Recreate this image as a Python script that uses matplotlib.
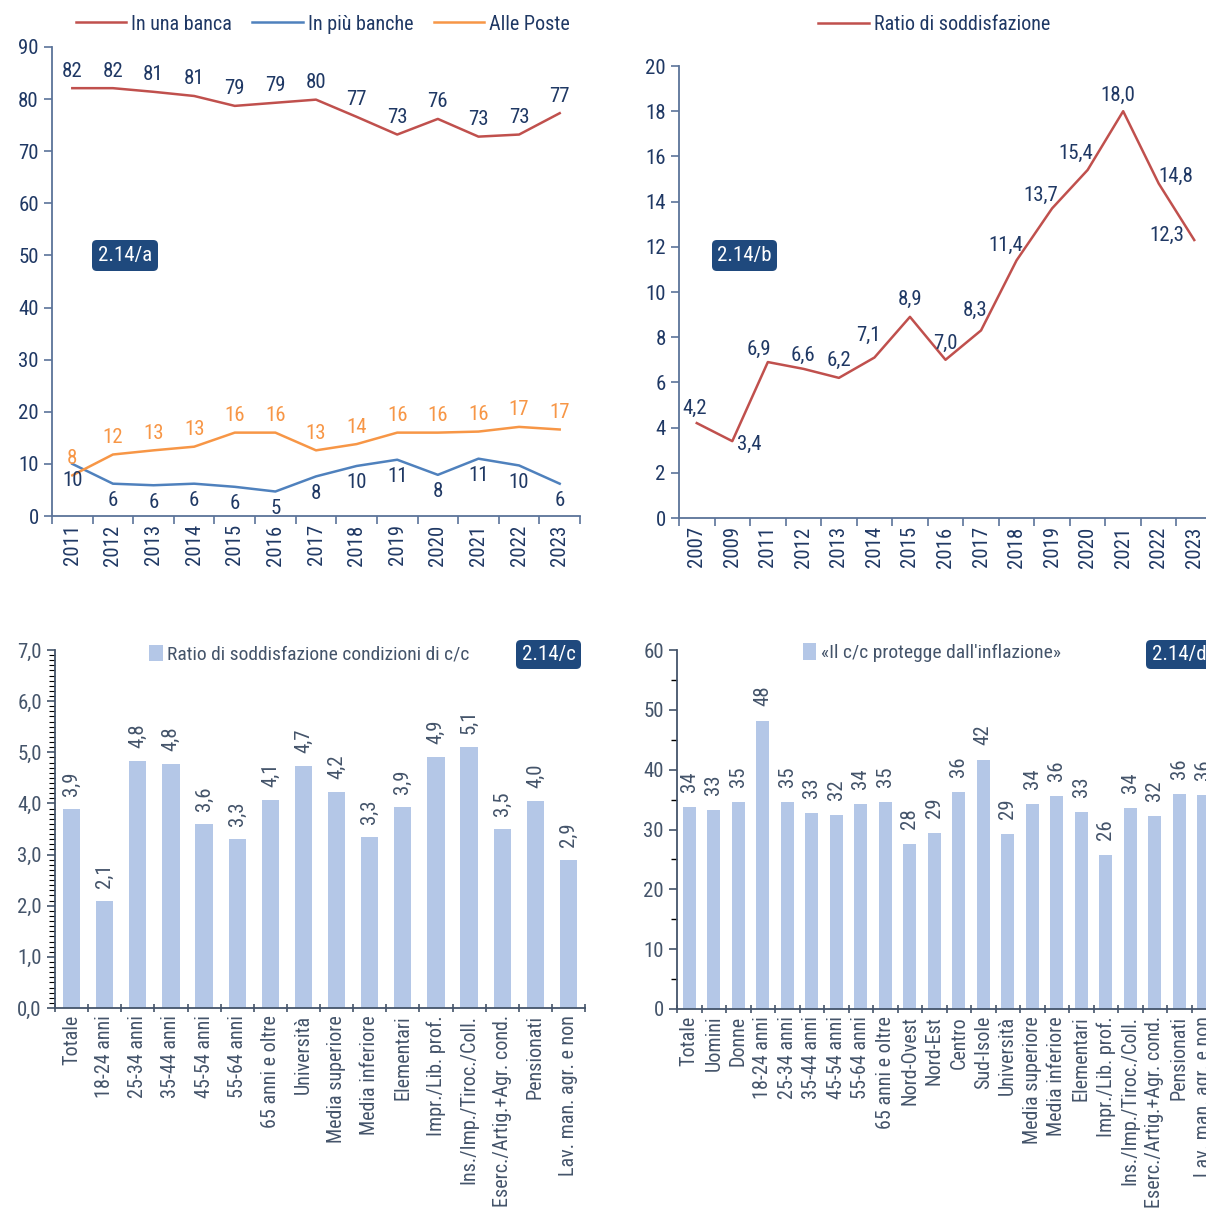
import matplotlib
matplotlib.use("Agg")
import matplotlib.pyplot as plt
import numpy as np
from matplotlib import font_manager as fm
from matplotlib.patches import FancyBboxPatch
from matplotlib.lines import Line2D

# ---------------- data ----------------
years_a = ['2011', '2012', '2013', '2014', '2015', '2016', '2017', '2018', '2019', '2020', '2021', '2022', '2023']
una_banca = [82.1, 82.1, 81.4, 80.6, 78.7, 79.3, 79.9, 76.6, 73.2, 76.2, 72.8, 73.2, 77.3]
piu_banche = [10.0, 6.2, 5.9, 6.2, 5.6, 4.7, 7.6, 9.6, 10.8, 7.9, 11.0, 9.7, 6.2]
alle_poste = [7.8, 11.8, 12.6, 13.3, 16.0, 16.0, 12.6, 13.8, 16.0, 16.0, 16.2, 17.1, 16.6]
series_a_names = ['In una banca', 'In più banche', 'Alle Poste']

years_b = ['2007', '2009', '2011', '2012', '2013', '2014', '2015', '2016', '2017', '2018', '2019', '2020', '2021', '2022', '2023']
ratio_b = [4.2, 3.4, 6.9, 6.6, 6.2, 7.1, 8.9, 7.0, 8.3, 11.4, 13.7, 15.4, 18.0, 14.8, 12.3]
series_b_name = 'Ratio di soddisfazione'

cats_c = ['Totale', '18-24 anni', '25-34 anni', '35-44 anni', '45-54 anni', '55-64 anni', '65 anni e oltre',
          'Università', 'Media superiore', 'Media inferiore', 'Elementari', 'Impr./Lib. prof.',
          'Ins./Imp./Tiroc./Coll.', 'Eserc./Artig.+Agr. cond.', 'Pensionati', 'Lav. man. agr. e non']
vals_c = [3.9, 2.1, 4.82, 4.78, 3.6, 3.3, 4.06, 4.73, 4.22, 3.34, 3.93, 4.9, 5.1, 3.5, 4.04, 2.9]
series_c_name = 'Ratio di soddisfazione condizioni di c/c'

cats_d = ['Totale', 'Uomini', 'Donne', '18-24 anni', '25-34 anni', '35-44 anni', '45-54 anni', '55-64 anni',
          '65 anni e oltre', 'Nord-Ovest', 'Nord-Est', 'Centro', 'Sud-Isole', 'Università', 'Media superiore',
          'Media inferiore', 'Elementari', 'Impr./Lib. prof.', 'Ins./Imp./Tiroc./Coll.',
          'Eserc./Artig.+Agr. cond.', 'Pensionati', 'Lav. man. agr. e non']
vals_d = [33.8, 33.2, 34.6, 48.2, 34.6, 32.8, 32.4, 34.3, 34.6, 27.6, 29.4, 36.2, 41.6, 29.2, 34.2,
          35.6, 32.9, 25.7, 33.6, 32.3, 36.0, 35.8]
series_d_name = '«Il c/c protegge dall\'inflazione»'

badges = ['2.14/a', '2.14/b', '2.14/c', '2.14/d']

# ---------------- style ----------------
avail = {f.name for f in fm.fontManager.ttflist}
family = 'DejaVu Sans'
for cand in ['Liberation Sans Narrow', 'Arial Narrow', 'Roboto Condensed', 'DejaVu Sans Condensed', 'Liberation Sans']:
    if cand in avail:
        family = cand
        break
plt.rcParams['font.family'] = [family, 'DejaVu Sans']

NAVY = '#1F3864'
GRAY = '#44546A'
SPINE_A = '#5B7399'
RED = '#C0504D'
BLUE = '#4F81BD'
ORANGE = '#F79646'
BAR = '#B4C7E7'
BADGE = '#1F497D'
FS = 15
FS_XB = 14.5   # bottom x labels
FS_VB = 15     # bottom value labels
FS_LB = 14     # bottom legends

W, H = 1206, 1208
fig = plt.figure(figsize=(W / 100, H / 100), dpi=100)


def add_ax(l, r, t, b):
    return fig.add_axes([l / W, 1 - b / H, (r - l) / W, (b - t) / H])


def style_axes(ax, color, txtcolor, fs):
    for s in ['top', 'right']:
        ax.spines[s].set_visible(False)
    for s in ['left', 'bottom']:
        ax.spines[s].set_color(color)
        ax.spines[s].set_linewidth(1.3)
    ax.tick_params(colors=color, labelcolor=txtcolor, labelsize=fs)


def cat_xaxis(ax, labels, color, txtcolor, fs, direction='out', pad=6):
    n = len(labels)
    ax.set_xlim(-0.5, n - 0.5)
    ax.set_xticks(np.arange(n + 1) - 0.5)
    ax.set_xticklabels([])
    ax.set_xticks(np.arange(n), minor=True)
    ax.set_xticklabels(labels, minor=True, rotation=90, fontsize=fs, color=txtcolor)
    ax.tick_params(axis='x', which='major', length=6, width=1.2, direction=direction, color=color)
    ax.tick_params(axis='x', which='minor', length=0, pad=pad)


def badge(x, y, w, h, text, fs):
    p = FancyBboxPatch((x / W, 1 - (y + h) / H), w / W, h / H,
                       boxstyle='round,pad=0,rounding_size=0.004', transform=fig.transFigure,
                       facecolor=BADGE, edgecolor='none', zorder=5)
    fig.patches.append(p)
    fig.text((x + w / 2) / W, 1 - (y + h / 2) / H, text, color='white', fontsize=fs,
             ha='center', va='center', zorder=6)


PX = 0.72  # px -> points

# ---------------- panel a ----------------
axa = add_ax(52, 580, 47, 516)
style_axes(axa, SPINE_A, NAVY, FS)
xa = np.arange(len(years_a))
axa.plot(xa, una_banca, color=RED, lw=1.8, label=series_a_names[0])
axa.plot(xa, piu_banche, color=BLUE, lw=1.8, label=series_a_names[1])
axa.plot(xa, alle_poste, color=ORANGE, lw=1.8, label=series_a_names[2])
axa.set_ylim(0, 90)
axa.set_yticks(np.arange(0, 91, 10))
axa.tick_params(axis='y', length=6, width=1.2, direction='out')
cat_xaxis(axa, years_a, SPINE_A, NAVY, FS)
for i, v in enumerate(una_banca):
    axa.annotate(f'{v:.0f}', (i, v), xytext=(0, 17 * PX), textcoords='offset points',
                 ha='center', va='center', color=NAVY, fontsize=FS)
for i, v in enumerate(piu_banche):
    axa.annotate(f'{v:.0f}', (i, v), xytext=(0, -17 * PX), textcoords='offset points',
                 ha='center', va='center', color=NAVY, fontsize=FS)
for i, v in enumerate(alle_poste):
    axa.annotate(f'{v:.0f}', (i, v), xytext=(0, 17 * PX), textcoords='offset points',
                 ha='center', va='center', color=ORANGE, fontsize=FS)
axa.legend(loc='center', bbox_to_anchor=(0.513, 1.049), ncol=3, frameon=False, fontsize=14.5,
           handlelength=2.5, columnspacing=1.0, handletextpad=0.25, labelcolor=NAVY)
badge(92, 240, 66, 31, badges[0], FS)

# ---------------- panel b ----------------
axb = add_ax(679, 1212, 66, 518)
style_axes(axb, SPINE_A, NAVY, FS)
xb = np.arange(len(years_b))
axb.plot(xb, ratio_b, color=RED, lw=1.8, label=series_b_name)
axb.set_ylim(0, 20)
axb.set_yticks(np.arange(0, 21, 2))
axb.tick_params(axis='y', length=6, width=1.2, direction='out')
cat_xaxis(axb, years_b, SPINE_A, NAVY, FS)
offs_b = [(-2, 15), (17, -3), (-9, 13), (0, 13), (0, 17), (-6, 22), (0, 17), (0, 16), (-6, 20),
          (-11, 15), (-11, 13), (-12, 17), (-5, 16), (17, 7), (-27, 5)]
for i, v in enumerate(ratio_b):
    dx, dy = offs_b[i]
    axb.annotate(f'{v:.1f}'.replace('.', ','), (i, v), xytext=(dx * PX, dy * PX), textcoords='offset points',
                 ha='center', va='center', color=NAVY, fontsize=FS)
fig.legend(handles=[Line2D([], [], color=RED, lw=1.8)], labels=[series_b_name], loc='center',
           bbox_to_anchor=(934 / W, 1 - 25 / H), frameon=False, fontsize=14.5, handlelength=2.5,
           handletextpad=0.25, labelcolor=NAVY)
badge(712, 240, 65, 31, badges[1], FS)

# ---------------- panel c ----------------
axc = add_ax(55, 585, 650, 1008)
style_axes(axc, GRAY, GRAY, FS)
xc = np.arange(len(cats_c))
axc.bar(xc, vals_c, width=0.52, color=BAR, label=series_c_name)
axc.set_ylim(0, 7)
axc.set_yticks(np.arange(0, 7.01, 1))
axc.set_yticklabels([f'{t:.1f}'.replace('.', ',') for t in np.arange(0, 7.01, 1)])
axc.set_yticks(np.arange(0, 7.01, 0.1), minor=True)
axc.tick_params(axis='y', which='major', length=6, width=1.2, direction='out', labelsize=FS)
axc.tick_params(axis='y', which='minor', length=4, width=0.8, direction='out')
cat_xaxis(axc, cats_c, GRAY, GRAY, FS_XB, direction='inout', pad=5)
for i, v in enumerate(vals_c):
    axc.annotate(f'{v:.1f}'.replace('.', ','), (i, v), xytext=(0, 13 * PX), textcoords='offset points',
                 ha='center', va='bottom', rotation=90, color=GRAY, fontsize=FS_VB)
axc.legend(loc='center', bbox_to_anchor=(0.48, 0.988), frameon=False, fontsize=FS_LB, handlelength=0.7,
           handleheight=0.9, handletextpad=0.25, labelcolor=GRAY)
badge(516, 640, 65, 29, badges[2], FS)

# ---------------- panel d ----------------
axd = add_ax(677, 1216, 650, 1009)
style_axes(axd, GRAY, GRAY, FS)
xd = np.arange(len(cats_d))
axd.bar(xd, vals_d, width=0.52, color=BAR, label=series_d_name)
axd.set_ylim(0, 60)
axd.set_yticks(np.arange(0, 61, 10))
axd.set_yticks(np.arange(0, 61, 5), minor=True)
axd.tick_params(axis='y', which='major', length=6, width=1.2, direction='out', labelsize=FS)
axd.tick_params(axis='y', which='minor', length=4, width=1.0, direction='out')
cat_xaxis(axd, cats_d, GRAY, GRAY, FS_XB, direction='inout', pad=5)
for i, v in enumerate(vals_d):
    axd.annotate(f'{v:.0f}', (i, v), xytext=(0, 15 * PX), textcoords='offset points',
                 ha='center', va='bottom', rotation=90, color=GRAY, fontsize=FS_VB)
axd.legend(loc='center', bbox_to_anchor=(0.473, 0.992), frameon=False, fontsize=FS_LB, handlelength=0.7,
           handleheight=0.9, handletextpad=0.25, labelcolor=GRAY)
badge(1146, 640, 66, 29, badges[3], FS)

fig.savefig('out.png', dpi=100)
